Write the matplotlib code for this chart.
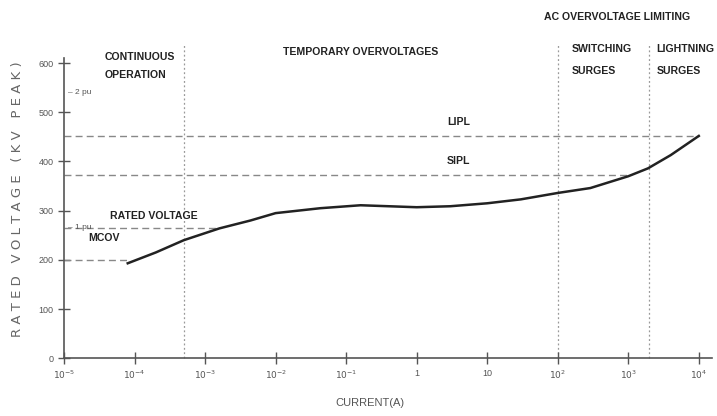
import numpy as np
import matplotlib
matplotlib.use("Agg")
import matplotlib.pyplot as plt

# data
current = [8e-5, 2e-4, 5e-4, 1.6e-3, 4.4e-3, 1e-2, 4.3e-2, 0.16, 1.0, 3.0, 10, 30, 100, 290, 1000, 1900, 4000, 1e4]
voltage = [193, 215, 240, 264, 280, 295, 305, 311, 307, 309, 315, 323, 336, 346, 370, 386, 413, 452]
xtick_vals = [1e-5, 1e-4, 1e-3, 1e-2, 1e-1, 1, 10, 1e2, 1e3, 1e4]
xtick_labels = [r"$10^{-5}$", r"$10^{-4}$", r"$10^{-3}$", r"$10^{-2}$", r"$10^{-1}$", "1", "10",
                r"$10^{2}$", r"$10^{3}$", r"$10^{4}$"]
ytick_vals = [0, 100, 200, 300, 400, 500, 600]
region_bounds = [5e-4, 1e2, 2e3]
mcov = 200
rated = 265
sipl = 372
lipl = 452
pu_vals = [265, 540]
pu_labels = ["1 pu", "2 pu"]

FONT = ["Liberation Sans", "DejaVu Sans"]
plt.rcParams['font.family'] = FONT

fig = plt.figure(figsize=(7.17, 4.16), dpi=100)
ax = fig.add_axes([0.0893, 0.139, 0.904, 0.721])
ax.set_xscale("log")
ax.set_xlim(1e-5, 10**4.19)
ax.set_ylim(0, 610)

for s in ["top", "right"]:
    ax.spines[s].set_visible(False)
for s in ["left", "bottom"]:
    ax.spines[s].set_color("#555555")
    ax.spines[s].set_linewidth(1.2)

ax.set_xticks(xtick_vals)
ax.set_xticklabels(xtick_labels, fontsize=6.5, color="#555555")
ax.xaxis.set_minor_locator(matplotlib.ticker.NullLocator())
ax.set_yticks(ytick_vals)
ax.set_yticklabels([str(v) for v in ytick_vals], fontsize=6.5, color="#555555")
ax.tick_params(direction="inout", length=8, width=1, color="#555555")

# curve
ax.plot(current, voltage, color="#222222", lw=1.8, zorder=5)

# dashed horizontal levels
dash_kw = dict(color="#888888", lw=1.0, linestyle=(0, (5, 3)), zorder=2)
ax.plot([1e-5, current[0]], [mcov, mcov], **dash_kw)
ax.plot([1e-5, 1.6e-3], [rated, rated], **dash_kw)
ax.plot([1e-5, 1000], [sipl, sipl], **dash_kw)
ax.plot([1e-5, 1e4], [lipl, lipl], **dash_kw)

# vertical region dividers
for xb in region_bounds:
    ax.plot([xb, xb], [0, 636], color="#999999", lw=0.9, linestyle=(0, (1.5, 2)),
            clip_on=False, zorder=1)

# pu marks
for v, lab in zip(pu_vals, pu_labels):
    ax.text(1.15e-5, v, "– " + lab, fontsize=6, color="#555555", va="center", ha="left")

tk = dict(fontsize=7.6, fontweight="bold", color="#222222", family=FONT, clip_on=False)
ax.text(3.8e-5, 612, "CONTINUOUS", **tk, va="center")
ax.text(3.8e-5, 575, "OPERATION", **tk, va="center")
ax.text(0.163, 622, "TEMPORARY OVERVOLTAGES", **tk, va="center", ha="center")
ax.text(690, 693, "AC OVERVOLTAGE LIMITING", **tk, va="center", ha="center")
ax.text(160, 628, "SWITCHING", **tk, va="center")
ax.text(160, 584, "SURGES", **tk, va="center")
ax.text(2500, 628, "LIGHTNING", **tk, va="center")
ax.text(2500, 584, "SURGES", **tk, va="center")
ax.text(2.7, 480, "LIPL", **tk, va="center")
ax.text(2.7, 400, "SIPL", **tk, va="center")
ax.text(4.5e-5, 289, "RATED VOLTAGE", **tk, va="center")
ax.text(2.2e-5, 244, "MCOV", **tk, va="center")

fig.text(0.025, 0.52, "R A T E D   V O L T A G E   ( K V   P E A K )", rotation=90,
         fontsize=9.5, color="#666666", ha="center", va="center", family=["DejaVu Sans"])
fig.text(0.516, 0.02, "CURRENT(A)", fontsize=8, color="#555555", ha="center", va="bottom")

fig.savefig("out.png", dpi=100)
